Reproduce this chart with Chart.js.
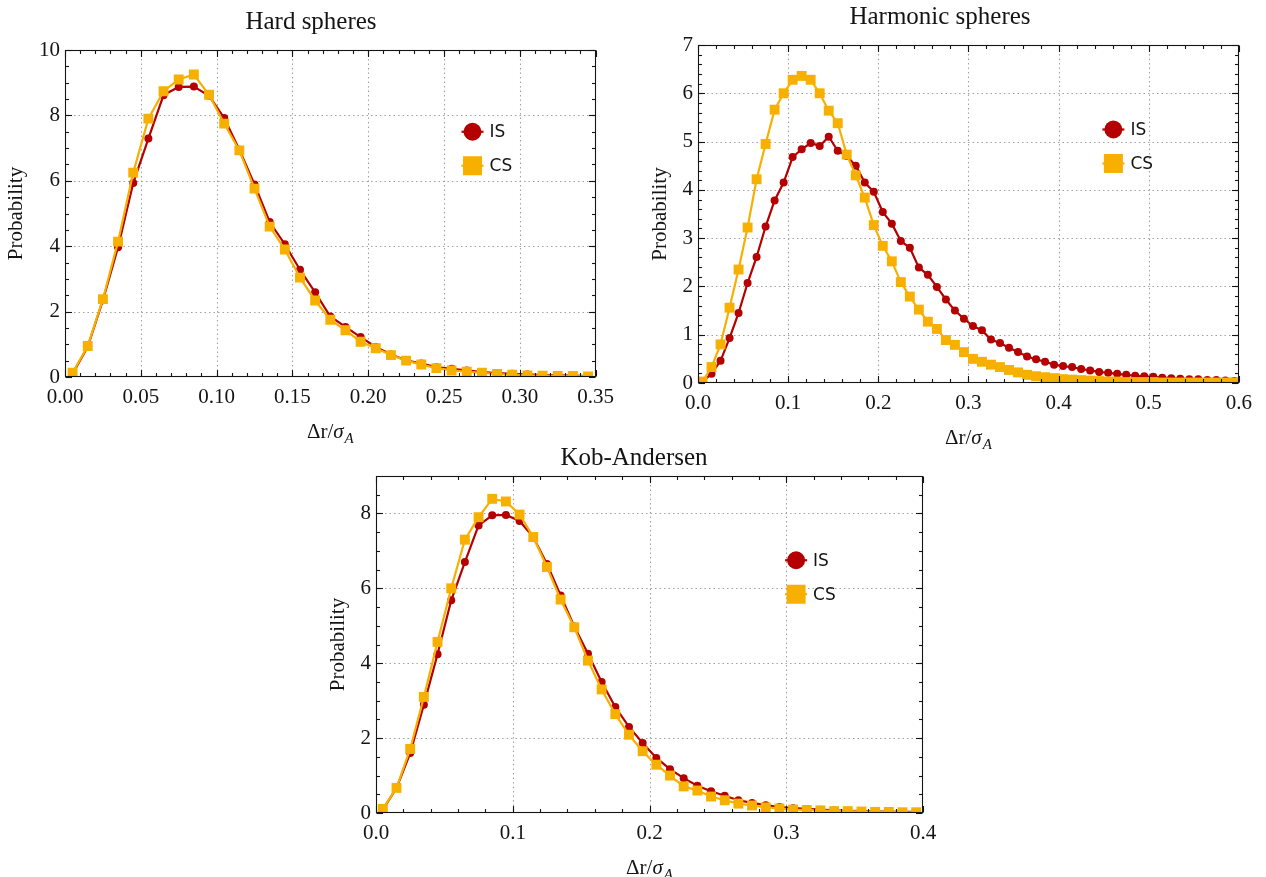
<!DOCTYPE html>
<html>
<head>
<meta charset="utf-8">
<title>Displacement distributions</title>
<script src="https://cdn.jsdelivr.net/npm/chart.js@4.4.1/dist/chart.umd.min.js"></script>
<style>
  html, body { margin: 0; padding: 0; background: #fff; }
  body { width: 1266px; height: 877px; position: relative; overflow: hidden; }
  canvas { position: absolute; }
</style>
</head>
<body>
<canvas id="hard" width="622" height="445" style="left:0px;top:0px"></canvas>
<canvas id="harm" width="640" height="450" style="left:620px;top:0px"></canvas>
<canvas id="kob" width="628" height="437" style="left:320px;top:440px"></canvas>
<script>
// ---- Hard spheres ----
const hardX = [0.005, 0.015, 0.025, 0.035, 0.045, 0.055, 0.065, 0.075, 0.085, 0.095,
               0.105, 0.115, 0.125, 0.135, 0.145, 0.155, 0.165, 0.175, 0.185, 0.195,
               0.205, 0.215, 0.225, 0.235, 0.245, 0.255, 0.265, 0.275, 0.285, 0.295,
               0.305, 0.315, 0.325, 0.335, 0.345];
const hardIS = [0.10, 0.92, 2.35, 3.97, 5.93, 7.29, 8.62, 8.87, 8.88, 8.60,
                7.92, 6.95, 5.89, 4.74, 4.06, 3.28, 2.59, 1.85, 1.53, 1.22,
                0.92, 0.69, 0.51, 0.41, 0.30, 0.25, 0.20, 0.15, 0.12, 0.10,
                0.08, 0.06, 0.05, 0.04, 0.03];
const hardCS = [0.13, 0.95, 2.38, 4.14, 6.25, 7.90, 8.74, 9.10, 9.25, 8.63,
                7.75, 6.93, 5.76, 4.60, 3.90, 3.04, 2.34, 1.75, 1.43, 1.08,
                0.88, 0.67, 0.50, 0.38, 0.27, 0.20, 0.16, 0.13, 0.09, 0.07,
                0.05, 0.04, 0.03, 0.03, 0.02];
const hardXTicks = [0, 0.05, 0.10, 0.15, 0.20, 0.25, 0.30, 0.35];
const hardYTicks = [0, 2, 4, 6, 8, 10];

// ---- Harmonic spheres ----
const harmX = [0.005, 0.015, 0.025, 0.035, 0.045, 0.055, 0.065, 0.075, 0.085, 0.095,
               0.105, 0.115, 0.125, 0.135, 0.145, 0.155, 0.165, 0.175, 0.185, 0.195,
               0.205, 0.215, 0.225, 0.235, 0.245, 0.255, 0.265, 0.275, 0.285, 0.295,
               0.305, 0.315, 0.325, 0.335, 0.345, 0.355, 0.365, 0.375, 0.385, 0.395,
               0.405, 0.415, 0.425, 0.435, 0.445, 0.455, 0.465, 0.475, 0.485, 0.495,
               0.505, 0.515, 0.525, 0.535, 0.545, 0.555, 0.565, 0.575, 0.585, 0.595];
const harmIS = [0.03, 0.19, 0.46, 0.93, 1.45, 2.07, 2.61, 3.24, 3.78, 4.15,
                4.68, 4.84, 4.97, 4.91, 5.10, 4.81, 4.70, 4.50, 4.15, 3.96,
                3.54, 3.30, 2.94, 2.80, 2.39, 2.24, 1.99, 1.73, 1.50, 1.33,
                1.18, 1.09, 0.90, 0.83, 0.73, 0.64, 0.55, 0.49, 0.44, 0.38,
                0.35, 0.33, 0.29, 0.26, 0.23, 0.21, 0.19, 0.17, 0.15, 0.14,
                0.13, 0.11, 0.10, 0.09, 0.08, 0.08, 0.06, 0.06, 0.05, 0.04];
const harmCS = [0.03, 0.33, 0.80, 1.56, 2.35, 3.22, 4.22, 4.95, 5.66, 6.00,
                6.28, 6.36, 6.28, 6.00, 5.64, 5.38, 4.73, 4.30, 3.84, 3.27,
                2.84, 2.52, 2.09, 1.79, 1.52, 1.27, 1.12, 0.89, 0.79, 0.64,
                0.50, 0.44, 0.38, 0.33, 0.27, 0.22, 0.17, 0.14, 0.12, 0.10,
                0.08, 0.07, 0.06, 0.05, 0.04, 0.03, 0.03, 0.02, 0.02, 0.02,
                0.02, 0.01, 0.01, 0.01, 0.01, 0.01, 0.01, 0.01, 0.01, 0.01];
const harmXTicks = [0, 0.1, 0.2, 0.3, 0.4, 0.5, 0.6];
const harmYTicks = [0, 1, 2, 3, 4, 5, 6, 7];

// ---- Kob-Andersen ----
const kobX = [0.005, 0.015, 0.025, 0.035, 0.045, 0.055, 0.065, 0.075, 0.085, 0.095,
              0.105, 0.115, 0.125, 0.135, 0.145, 0.155, 0.165, 0.175, 0.185, 0.195,
              0.205, 0.215, 0.225, 0.235, 0.245, 0.255, 0.265, 0.275, 0.285, 0.295,
              0.305, 0.315, 0.325, 0.335, 0.345, 0.355, 0.365, 0.375, 0.385, 0.395];
const kobIS = [0.09, 0.67, 1.60, 2.89, 4.24, 5.68, 6.70, 7.68, 7.95, 7.96,
               7.80, 7.37, 6.65, 5.81, 4.98, 4.25, 3.50, 2.83, 2.30, 1.87,
               1.47, 1.17, 0.93, 0.73, 0.58, 0.46, 0.34, 0.27, 0.21, 0.16,
               0.13, 0.11, 0.09, 0.07, 0.06, 0.05, 0.04, 0.04, 0.03, 0.03];
const kobCS = [0.11, 0.67, 1.71, 3.10, 4.57, 6.00, 7.30, 7.90, 8.39, 8.32,
               7.97, 7.37, 6.57, 5.70, 4.96, 4.07, 3.30, 2.64, 2.09, 1.65,
               1.29, 1.00, 0.71, 0.60, 0.44, 0.34, 0.25, 0.20, 0.15, 0.12,
               0.09, 0.08, 0.07, 0.05, 0.05, 0.04, 0.03, 0.03, 0.02, 0.02];
const kobXTicks = [0, 0.1, 0.2, 0.3, 0.4];
const kobYTicks = [0, 2, 4, 6, 8];

const seriesNames = ['IS', 'CS'];

const RED = '#b40000';
const GOLD = '#f8b000';
const INK = '#141414';
const SERIF = "'Liberation Serif', 'DejaVu Serif', serif";
const SANS = "'DejaVu Sans', 'Liberation Sans', sans-serif";

// Panel title, axes box with dotted grid, inward major/minor ticks, in-plot legend and x-axis label
const frameDecor = {
  id: 'frameDecor',
  beforeDatasetsDraw(chart) {
    const { ctx, chartArea: a, scales: { x, y } } = chart;
    ctx.save();
    ctx.strokeStyle = '#a2a2a2';
    ctx.lineWidth = 1.1;
    ctx.setLineDash([1.5, 3]);
    x.ticks.forEach(t => {
      const px = Math.round(x.getPixelForValue(t.value)) + 0.5;
      if (px <= a.left + 1 || px >= a.right - 1) return;
      ctx.beginPath(); ctx.moveTo(px, a.top); ctx.lineTo(px, a.bottom); ctx.stroke();
    });
    y.ticks.forEach(t => {
      const py = Math.round(y.getPixelForValue(t.value)) + 0.5;
      if (py <= a.top + 1 || py >= a.bottom - 1) return;
      ctx.beginPath(); ctx.moveTo(a.left, py); ctx.lineTo(a.right, py); ctx.stroke();
    });
    ctx.restore();
  },
  afterDatasetsDraw(chart, args, opts) {
    const { ctx, chartArea: a, scales: { x, y } } = chart;
    ctx.save();
    ctx.strokeStyle = INK;
    ctx.lineWidth = 1.1;
    ctx.setLineDash([]);
    const L = Math.round(a.left) + 0.5, R = Math.round(a.right) - 0.5;
    const T = Math.round(a.top) + 0.5, B = Math.round(a.bottom) - 0.5;
    const seg = (x1, y1, x2, y2) => { ctx.beginPath(); ctx.moveTo(x1, y1); ctx.lineTo(x2, y2); ctx.stroke(); };
    // minor ticks
    const nx = Math.round((x.max - x.min) / opts.xMinor);
    for (let i = 1; i < nx; i++) {
      const px = Math.round(x.getPixelForValue(x.min + i * opts.xMinor)) + 0.5;
      seg(px, B, px, B - 3.5); seg(px, T, px, T + 3.5);
    }
    const ny = Math.round((y.max - y.min) / opts.yMinor);
    for (let i = 1; i < ny; i++) {
      const py = Math.round(y.getPixelForValue(y.min + i * opts.yMinor)) + 0.5;
      seg(L, py, L + 3.5, py); seg(R, py, R - 3.5, py);
    }
    // major ticks
    x.ticks.forEach(t => {
      const px = Math.round(x.getPixelForValue(t.value)) + 0.5;
      seg(px, B, px, B - 6.5); seg(px, T, px, T + 6.5);
    });
    y.ticks.forEach(t => {
      const py = Math.round(y.getPixelForValue(t.value)) + 0.5;
      seg(L, py, L + 6.5, py); seg(R, py, R - 6.5, py);
    });
    ctx.strokeRect(L, T, R - L, B - T);
    ctx.restore();
  },
  afterDraw(chart, args, opts) {
    const { ctx, chartArea: a } = chart;
    ctx.save();
    // panel title, centred on the canvas
    ctx.fillStyle = INK;
    ctx.font = '25px ' + SERIF;
    ctx.textAlign = 'center';
    ctx.textBaseline = 'middle';
    ctx.fillText(opts.title, chart.width / 2, opts.titleY);
    // legend
    const lx = a.left + 0.768 * (a.right - a.left);
    let ly = a.top + 0.25 * (a.bottom - a.top);
    chart.data.datasets.forEach(ds => {
      ctx.strokeStyle = ds.borderColor;
      ctx.fillStyle = ds.borderColor;
      ctx.lineWidth = 2.2;
      ctx.beginPath(); ctx.moveTo(lx - 11, ly); ctx.lineTo(lx + 11, ly); ctx.stroke();
      if (ds.pointStyle === 'circle') {
        ctx.beginPath(); ctx.arc(lx, ly, 9, 0, Math.PI * 2); ctx.fill();
      } else {
        ctx.fillRect(lx - 9.5, ly - 9.5, 19, 19);
      }
      ctx.fillStyle = INK;
      ctx.font = '17px ' + SANS;
      ctx.textAlign = 'left';
      ctx.textBaseline = 'middle';
      ctx.fillText(ds.label, lx + 17, ly + 1);
      ly += 34;
    });
    // x-axis label: Δr/σ_A
    const cx = (a.left + a.right) / 2;
    const by = a.bottom + 61;
    const fMain = '21px ' + SERIF, fIt = 'italic 21px ' + SERIF, fSub = 'italic 15px ' + SERIF;
    const parts = [['Δr/', fMain, 0], ['σ', fIt, 0], ['A', fSub, 5]];
    let w = 0;
    parts.forEach(p => { ctx.font = p[1]; w += ctx.measureText(p[0]).width + (p[2] ? 1 : 0); });
    let px = cx - w / 2;
    ctx.fillStyle = INK;
    ctx.textAlign = 'left';
    ctx.textBaseline = 'alphabetic';
    parts.forEach(p => {
      ctx.font = p[1];
      if (p[2]) px += 1;
      ctx.fillText(p[0], px, by + p[2]);
      px += ctx.measureText(p[0]).width;
    });
    ctx.restore();
  }
};

function buildChart(id, s) {
  const dataset = (label, ys, color, style, radius, order) => ({
    label,
    data: s.x.map((v, i) => ({ x: v, y: ys[i] })),
    borderColor: color,
    backgroundColor: color,
    pointBackgroundColor: color,
    pointBorderColor: color,
    pointBorderWidth: 0,
    borderWidth: 2.2,
    pointStyle: style,
    pointRadius: radius,
    tension: 0,
    order
  });
  return new Chart(document.getElementById(id), {
    type: 'line',
    data: {
      datasets: [
        dataset(seriesNames[0], s.is, RED, 'circle', 4, 1),
        dataset(seriesNames[1], s.cs, GOLD, 'rect', 7, 0)
      ]
    },
    options: {
      responsive: false,
      animation: false,
      devicePixelRatio: 1,
      events: [],
      layout: { padding: { left: 0, right: s.padRight, top: s.padTop, bottom: 0 } },
      plugins: {
        legend: { display: false },
        tooltip: { enabled: false },
        title: { display: false },
        frameDecor: { xMinor: s.xMinor, yMinor: s.yMinor, title: s.title, titleY: s.titleY }
      },
      scales: {
        x: {
          type: 'linear', min: 0, max: s.xTicks[s.xTicks.length - 1],
          grid: { display: false, drawTicks: false }, border: { display: false },
          afterBuildTicks: sc => { sc.ticks = s.xTicks.map(v => ({ value: v })); },
          afterFit: sc => { sc.height = s.xAxisHeight; },
          ticks: {
            font: { family: SERIF, size: 21 }, color: INK, padding: 8,
            maxRotation: 0, autoSkip: false,
            callback: v => v.toFixed(s.xDec)
          }
        },
        y: {
          type: 'linear', min: 0, max: s.yMax,
          grid: { display: false, drawTicks: false }, border: { display: false },
          afterBuildTicks: sc => { sc.ticks = s.yTicks.map(v => ({ value: v })); },
          afterFit: sc => { sc.width = s.yAxisWidth; },
          ticks: {
            font: { family: SERIF, size: 21 }, color: INK, padding: 5,
            autoSkip: false, callback: v => String(v)
          },
          title: {
            display: true, text: 'Probability', color: INK,
            font: { family: SERIF, size: 21 },
            padding: { top: s.yTitlePad, bottom: 0 }
          }
        }
      }
    },
    plugins: [frameDecor]
  });
}

buildChart('hard', {
  title: 'Hard spheres', x: hardX, is: hardIS, cs: hardCS,
  xTicks: hardXTicks, yTicks: hardYTicks, yMax: 10, xMinor: 0.01, yMinor: 0.5, xDec: 2,
  yAxisWidth: 65, xAxisHeight: 68, padRight: 26, padTop: 50, titleY: 22, yTitlePad: 4
});
buildChart('harm', {
  title: 'Harmonic spheres', x: harmX, is: harmIS, cs: harmCS,
  xTicks: harmXTicks, yTicks: harmYTicks, yMax: 7, xMinor: 0.02, yMinor: 0.2, xDec: 1,
  yAxisWidth: 78, xAxisHeight: 67, padRight: 15, padTop: 45, titleY: 17, yTitlePad: 28
});
buildChart('kob', {
  title: 'Kob-Andersen', x: kobX, is: kobIS, cs: kobCS,
  xTicks: kobXTicks, yTicks: kobYTicks, yMax: 9, xMinor: 0.02, yMinor: 0.5, xDec: 1,
  yAxisWidth: 56, xAxisHeight: 64, padRight: 25, padTop: 36, titleY: 18, yTitlePad: 6
});
</script>
</body>
</html>
